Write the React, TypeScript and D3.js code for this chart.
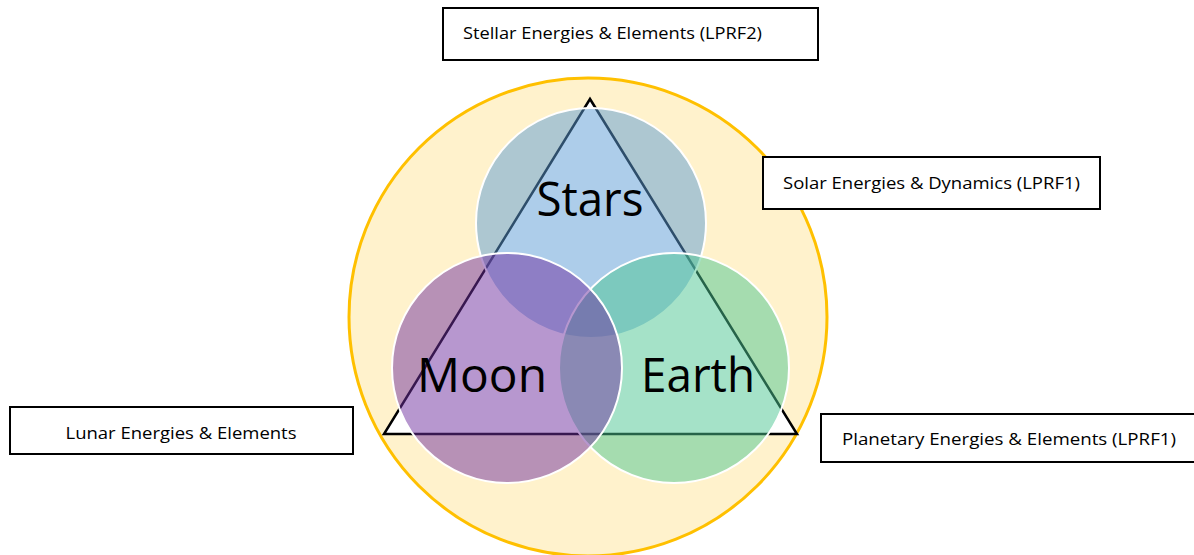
import React from 'react';
import * as d3 from 'd3';

// circle names and their fills (drawn in this order: Stars, Earth, Moon)
const bodies = ['Stars', 'Moon', 'Earth'];
const bodyColors = ['#5B9BD5', '#7030A0', '#4BC591'];
const drawOrder = [0, 2, 1];

// label boxes
const labels = [
  'Stellar Energies & Elements (LPRF2)',
  'Solar Energies & Dynamics (LPRF1)',
  'Lunar Energies & Elements',
  'Planetary Energies & Elements (LPRF1)',
];

const W = 1194;
const H = 555;

const App = () => {
  // outer circle
  const cx = 588;
  const cy = 317;
  const outerR = 239;

  // triangle corners
  const tri: [number, number][] = [
    [590, 99],
    [384, 434],
    [797, 434],
  ];

  const circleR = 115;
  const circlePos: [number, number][] = [
    [591, 223],
    [507, 368],
    [674, 368],
  ];
  // text x, baseline y, fitted width
  const textPos: [number, number, number][] = [
    [590, 216, 107],
    [482, 392, 130],
    [698, 392, 114],
  ];

  const line = d3.line();

  const boxes = [
    { x: 443, y: 8, w: 375, h: 52, tx: 463, ty: 39, anchor: 'start', tl: 299 },
    { x: 763, y: 157, w: 337, h: 52, tx: 783, ty: 189, anchor: 'start', tl: 297 },
    { x: 10, y: 407, w: 343, h: 47, tx: 181, ty: 439, anchor: 'middle', tl: 231 },
    { x: 821, y: 414, w: 380, h: 48, tx: 842, ty: 445, anchor: 'start', tl: 334 },
  ];

  return (
    <svg width={W} height={H} style={{ position: 'absolute', left: 0, top: 0 }}>
      <rect width={W} height={H} fill="#fff" />
      <circle cx={cx} cy={cy} r={outerR} fill="#FFF2CC" stroke="#FFC000" strokeWidth={3} />
      <path d={line(tri) + 'Z'} fill="#fff" stroke="#000" strokeWidth={2.5} />
      {drawOrder.map(i => (
        <circle
          key={bodies[i]}
          cx={circlePos[i][0]}
          cy={circlePos[i][1]}
          r={circleR}
          fill={bodyColors[i]}
          fillOpacity={0.5}
          stroke="#fff"
          strokeWidth={2}
        />
      ))}
      {bodies.map((b, i) => (
        <text
          key={b + 't'}
          x={textPos[i][0]}
          y={textPos[i][1]}
          textAnchor="middle"
          fontFamily="'Open Sans', sans-serif"
          fontSize={48}
          textLength={textPos[i][2]}
          lengthAdjust="spacingAndGlyphs"
          fill="#000"
        >
          {b}
        </text>
      ))}
      {labels.map((l, i) => {
        const bx = boxes[i];
        return (
          <g key={l}>
            <rect x={bx.x} y={bx.y} width={bx.w} height={bx.h} fill="#fff" stroke="#000" strokeWidth={2} />
            <text
              x={bx.tx}
              y={bx.ty}
              textAnchor={bx.anchor}
              fontFamily="'Open Sans', sans-serif"
              fontSize={16}
              textLength={bx.tl}
              lengthAdjust="spacingAndGlyphs"
              fill="#000"
            >
              {l}
            </text>
          </g>
        );
      })}
    </svg>
  );
};

export default App;
